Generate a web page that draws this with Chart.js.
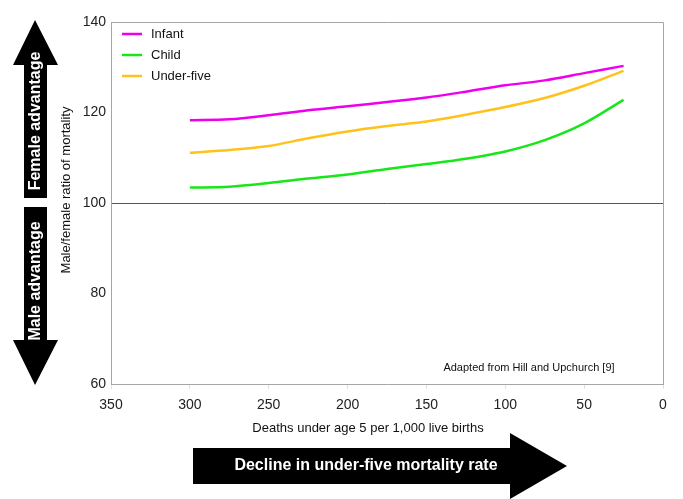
<!DOCTYPE html>
<html>
<head>
<meta charset="utf-8">
<script src="https://cdn.jsdelivr.net/npm/chart.js@4"></script>
<style>
  html, body { margin: 0; padding: 0; background: #fff; }
  #wrap { width: 683px; height: 499px; }
</style>
</head>
<body>
<div id="wrap"><canvas id="chart" width="683" height="499"></canvas></div>
<script>
// under-five mortality (deaths per 1,000 live births)
const mortality = [300, 275, 250, 225, 200, 175, 150, 125, 100, 75, 50, 25];
// male/female ratio of mortality (x100)
const infant    = [118.3, 118.5, 119.4, 120.5, 121.4, 122.3, 123.3, 124.6, 126.0, 127.1, 128.7, 130.3];
const child     = [103.4, 103.6, 104.4, 105.4, 106.3, 107.5, 108.6, 109.8, 111.4, 113.9, 117.6, 122.8];
const underFive = [111.1, 111.7, 112.6, 114.3, 115.8, 117.0, 118.0, 119.5, 121.2, 123.2, 125.9, 129.2];
const seriesNames = ['Infant', 'Child', 'Under-five'];
const xTicks = [350, 300, 250, 200, 150, 100, 50, 0];
const yTicks = [60, 80, 100, 120, 140];

const FONT = '"Liberation Sans", Arial, sans-serif';

function toPoints(ys) {
    return mortality.map((m, i) => ({ x: m, y: ys[i] }));
}

// frame, legend, titles, arrows
const extras = {
    id: 'extras',
    afterDraw(chart) {
        const c = chart.ctx;
        const a = chart.chartArea;
        c.save();

        // box round the plot area
        c.strokeStyle = '#a6a6a6';
        c.lineWidth = 1;
        c.beginPath();
        c.moveTo(a.left + 0.5, a.top + 0.5);
        c.lineTo(a.right + 0.5, a.top + 0.5);
        c.lineTo(a.right + 0.5, a.bottom + 0.5);
        c.stroke();

        // legend in top-left corner
        c.font = '13px ' + FONT;
        c.textBaseline = 'middle';
        chart.data.datasets.forEach((ds, i) => {
            const y = 34 + i * 21;
            c.strokeStyle = ds.borderColor;
            c.lineWidth = 2.5;
            c.beginPath();
            c.moveTo(122, y);
            c.lineTo(142, y);
            c.stroke();
            c.fillStyle = '#111';
            c.textAlign = 'left';
            c.fillText(ds.label, 151, y);
        });

        // source note
        c.font = '11px ' + FONT;
        c.textAlign = 'center';
        c.fillStyle = '#111';
        c.fillText('Adapted from Hill and Upchurch [9]', 529, 368);

        // axis titles
        c.font = '13px ' + FONT;
        c.fillText('Deaths under age 5 per 1,000 live births', 368, 428);
        c.save();
        c.translate(66, 190);
        c.rotate(-Math.PI / 2);
        c.fillText('Male/female ratio of mortality', 0, 0);
        c.restore();

        // vertical arrows
        c.fillStyle = '#000';
        c.beginPath();
        c.moveTo(35, 20);
        c.lineTo(58, 65);
        c.lineTo(47, 65);
        c.lineTo(47, 198);
        c.lineTo(24, 198);
        c.lineTo(24, 65);
        c.lineTo(13, 65);
        c.closePath();
        c.fill();
        c.beginPath();
        c.moveTo(24, 207);
        c.lineTo(47, 207);
        c.lineTo(47, 340);
        c.lineTo(58, 340);
        c.lineTo(35, 385);
        c.lineTo(13, 340);
        c.lineTo(24, 340);
        c.closePath();
        c.fill();

        // horizontal arrow
        c.beginPath();
        c.moveTo(193, 448);
        c.lineTo(510, 448);
        c.lineTo(510, 433);
        c.lineTo(567, 466);
        c.lineTo(510, 499);
        c.lineTo(510, 484);
        c.lineTo(193, 484);
        c.closePath();
        c.fill();

        c.fillStyle = '#fff';
        c.font = 'bold 16px ' + FONT;
        c.fillText('Decline in under-five mortality rate', 366, 466);
        c.save();
        c.translate(36, 121);
        c.rotate(-Math.PI / 2);
        c.fillText('Female advantage', 0, 0);
        c.restore();
        c.save();
        c.translate(36, 281);
        c.rotate(-Math.PI / 2);
        c.fillText('Male advantage', 0, 0);
        c.restore();

        c.restore();
    }
};

const colors = ['#ee00ee', '#19e619', '#ffc21a'];
const series = [infant, child, underFive];

new Chart(document.getElementById('chart').getContext('2d'), {
    type: 'line',
    data: {
        datasets: series.map((s, i) => ({
            label: seriesNames[i],
            data: toPoints(s),
            borderColor: colors[i],
            borderWidth: 2.5,
            pointRadius: 0,
            tension: 0.3,
            fill: false
        }))
    },
    options: {
        responsive: false,
        animation: false,
        layout: { padding: { top: 22, right: 20, bottom: 0, left: 0 } },
        plugins: {
            legend: { display: false },
            tooltip: { enabled: false }
        },
        scales: {
            x: {
                type: 'linear',
                reverse: true,
                min: 0,
                max: 350,
                afterBuildTicks: (scale) => { scale.ticks = xTicks.map(v => ({ value: v })); },
                afterFit: (scale) => { scale.height = 115; },
                grid: { drawOnChartArea: false, color: '#e3e3e3', tickLength: 5 },
                border: { color: '#a6a6a6' },
                ticks: { color: '#222', font: { family: FONT, size: 14 }, padding: 8, maxRotation: 0 }
            },
            y: {
                min: 60,
                max: 140,
                afterBuildTicks: (scale) => { scale.ticks = yTicks.map(v => ({ value: v })); },
                afterFit: (scale) => { scale.width = 111; },
                grid: {
                    drawTicks: false,
                    color: (ctx) => (ctx.tick && ctx.tick.value === 100 ? '#555' : 'rgba(0,0,0,0)')
                },
                border: { color: '#a6a6a6' },
                ticks: { color: '#222', font: { family: FONT, size: 14 }, padding: 5 }
            }
        }
    },
    plugins: [extras]
});
</script>
</body>
</html>
